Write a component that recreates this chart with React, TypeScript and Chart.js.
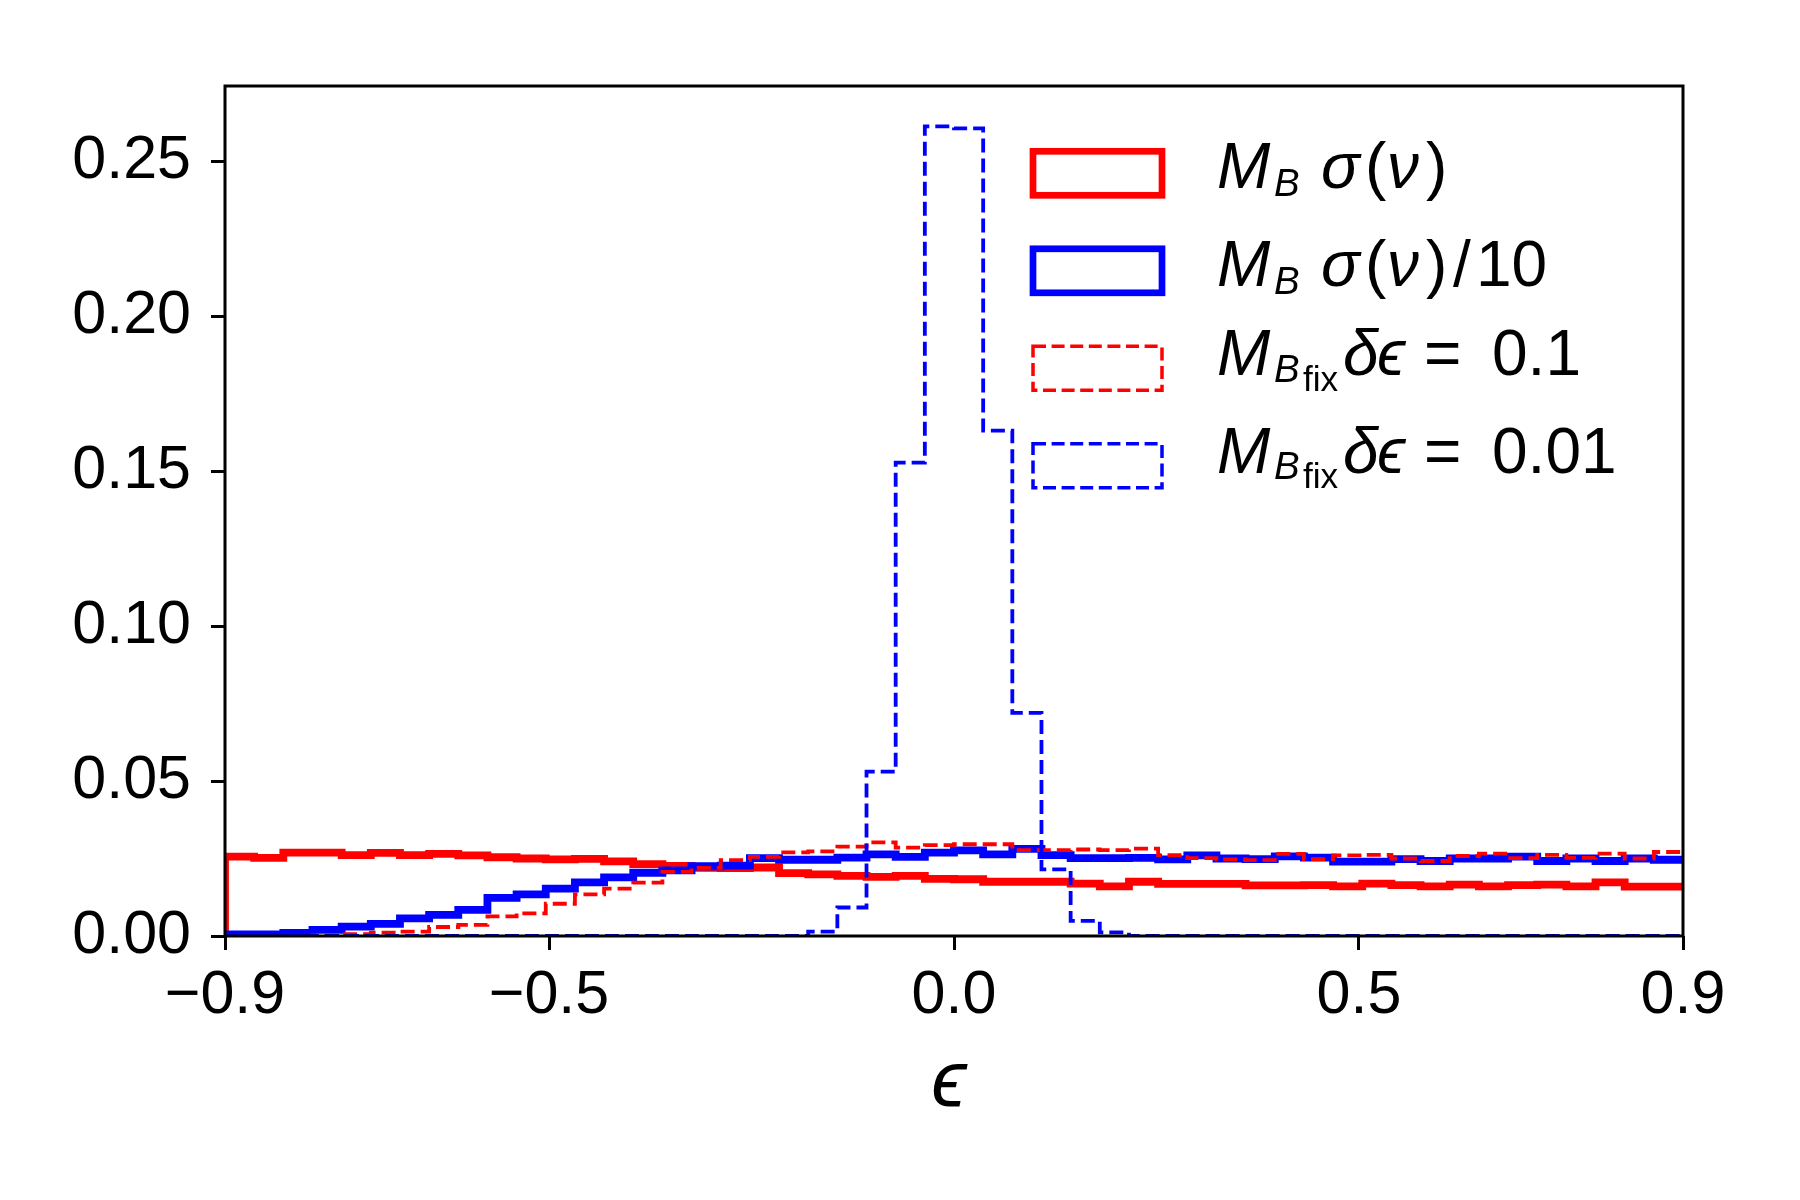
import React, { useEffect, useRef } from "react";
import { Chart, registerables } from "chart.js";

Chart.register(...registerables);

// ---- histogram definition (50 equal bins between -0.9 and 0.9) ----
const BIN_MIN = -0.9;
const BIN_MAX = 0.9;
const BIN_COUNT = 50;

// M_B sigma(nu)
const RED_SOLID = [
  0.0256, 0.0252, 0.0269, 0.0269, 0.0261, 0.0268, 0.0261, 0.0265, 0.026, 0.0254,
  0.025, 0.0247, 0.0249, 0.0241, 0.0232, 0.0226, 0.022, 0.0219, 0.0221, 0.0203,
  0.0199, 0.0194, 0.0191, 0.0194, 0.0184, 0.0183, 0.0175, 0.0175, 0.0175, 0.0169,
  0.016, 0.0175, 0.0168, 0.0168, 0.0168, 0.0163, 0.0163, 0.0164, 0.016, 0.0169,
  0.0164, 0.016, 0.0166, 0.016, 0.0164, 0.0166, 0.016, 0.0173, 0.0159, 0.0159,
];

// M_B sigma(nu)/10
const BLUE_SOLID = [
  0.0005, 0.0005, 0.001, 0.002, 0.003, 0.0039, 0.0057, 0.0068, 0.0084, 0.0123,
  0.0134, 0.0153, 0.0173, 0.0189, 0.0204, 0.0212, 0.0225, 0.0227, 0.0251, 0.0246,
  0.0246, 0.0253, 0.0263, 0.0255, 0.0269, 0.0276, 0.0263, 0.0281, 0.0261, 0.0251,
  0.0251, 0.0252, 0.0247, 0.026, 0.025, 0.0248, 0.0257, 0.0253, 0.024, 0.024,
  0.0248, 0.0242, 0.025, 0.025, 0.0256, 0.0242, 0.025, 0.0242, 0.025, 0.0246,
];

// M_B_fix, delta eps = 0.1
const RED_DASHED = [
  0, 0, 0, 0.0002, 0.0006, 0.0011, 0.0014, 0.0029, 0.0036, 0.0063,
  0.0073, 0.0104, 0.0134, 0.0153, 0.0172, 0.0207, 0.022, 0.0245, 0.0255, 0.027,
  0.0273, 0.0288, 0.0302, 0.0285, 0.0293, 0.0296, 0.0296, 0.0277, 0.0277, 0.0279,
  0.0277, 0.0282, 0.0261, 0.0251, 0.0247, 0.0245, 0.0265, 0.0248, 0.026, 0.0262,
  0.025, 0.0242, 0.0258, 0.0266, 0.0251, 0.0262, 0.0252, 0.0266, 0.025, 0.0271,
];

// M_B_fix, delta eps = 0.01
const BLUE_DASHED = [
  0, 0, 0, 0, 0, 0, 0, 0, 0, 0,
  0, 0, 0, 0, 0, 0, 0, 0, 0, 0,
  0.0014, 0.0092, 0.053, 0.1527, 0.2612, 0.2605, 0.163, 0.072, 0.0215, 0.0049,
  0.0012, 0, 0, 0, 0, 0, 0, 0, 0, 0,
  0, 0, 0, 0, 0, 0, 0, 0, 0, 0,
];

const X_TICKS = [-0.9, -0.5, 0.0, 0.5, 0.9];
const X_TICK_LABELS = ["\u22120.9", "\u22120.5", "0.0", "0.5", "0.9"];
const Y_TICKS = [0, 0.05, 0.1, 0.15, 0.2, 0.25];
const Y_TICK_LABELS = ["0.00", "0.05", "0.10", "0.15", "0.20", "0.25"];
const Y_MAX = 0.2742;
const X_TITLE = "\u03f5";

// legend label pieces: text, italic, size factor, vertical shift (em), horizontal offset (px from label start)
type Run = { t: string; it?: boolean; s?: number; dy?: number; x: number };

const LABEL_SIGMA: Run[] = [
  { t: "M", it: true, x: 0 },
  { t: "B", it: true, s: 0.6, dy: 0.125, x: 57 },
  { t: "\u03c3", it: true, x: 104 },
  { t: "(", x: 148 },
  { t: "\u03bd", it: true, x: 170 },
  { t: ")", x: 209 },
];
const LABEL_SIGMA10: Run[] = [...LABEL_SIGMA, { t: "/", x: 236 }, { t: "10", x: 259 }];
const labelFix = (val: string): Run[] => [
  { t: "M", it: true, x: 0 },
  { t: "B", it: true, s: 0.6, dy: 0.1, x: 57 },
  { t: "fix", s: 0.55, dy: 0.24, x: 86 },
  { t: "\u03b4", it: true, x: 126 },
  { t: "\u03f5", it: true, x: 160 },
  { t: "=", x: 207 },
  { t: val, x: 275 },
];

const LEGEND_COLORS = ["#ff0000", "#0000ff", "#ff0000", "#0000ff"];
const LEGEND_DASHED = [false, false, true, true];
const LEGEND_LABELS: Run[][] = [LABEL_SIGMA, LABEL_SIGMA10, labelFix("0.1"), labelFix("0.01")];

const FONT = "'Liberation Sans', 'DejaVu Sans', sans-serif";

function binEdges(): number[] {
  const w = (BIN_MAX - BIN_MIN) / BIN_COUNT;
  const e: number[] = [];
  for (let i = 0; i <= BIN_COUNT; i++) e.push(BIN_MIN + i * w);
  return e;
}

function stepPoints(vals: number[]) {
  const edges = binEdges();
  const pts: { x: number; y: number }[] = [{ x: edges[0], y: 0 }];
  vals.forEach((v, i) => {
    pts.push({ x: edges[i], y: v });
    pts.push({ x: edges[i + 1], y: v });
  });
  pts.push({ x: edges[edges.length - 1], y: 0 });
  return pts;
}

const framePlugin = {
  id: "frame",
  afterDatasetsDraw(chart: any) {
    const { ctx, chartArea: a } = chart;
    ctx.save();
    ctx.strokeStyle = "#000";
    ctx.lineWidth = 3;
    ctx.strokeRect(a.left, a.top, a.right - a.left, a.bottom - a.top);
    ctx.restore();
  },
};

const legendPlugin = {
  id: "mathLegend",
  afterDraw(chart: any) {
    const { ctx } = chart;
    const boxLeft = 1033;
    const boxRight = 1162;
    const halfH = 22;
    const firstCenter = 173.3;
    const step = 97.5;
    const textX = 1217;
    const size = 64;
    ctx.save();
    LEGEND_LABELS.forEach((runs, i) => {
      const cy = firstCenter + i * step;
      const dashed = LEGEND_DASHED[i];
      ctx.strokeStyle = LEGEND_COLORS[i];
      ctx.lineWidth = dashed ? 3.5 : 6.7;
      ctx.setLineDash(dashed ? [13, 5.6] : []);
      ctx.lineJoin = "miter";
      ctx.strokeRect(boxLeft, cy - halfH, boxRight - boxLeft, halfH * 2);
      ctx.setLineDash([]);
      const baseline = cy + (dashed ? 7 : 15);
      ctx.fillStyle = "#000";
      ctx.textBaseline = "alphabetic";
      ctx.textAlign = "left";
      runs.forEach((r) => {
        const fs = size * (r.s ?? 1);
        ctx.font = `${r.it ? "italic " : ""}${fs}px ${FONT}`;
        ctx.fillText(r.t, textX + r.x, baseline + (r.dy ?? 0) * size);
      });
    });
    // x-axis title
    ctx.font = `italic 80px ${FONT}`;
    ctx.textAlign = "center";
    ctx.textBaseline = "alphabetic";
    ctx.fillStyle = "#000";
    const a = chart.chartArea;
    ctx.fillText(X_TITLE, (a.left + a.right) / 2 - 5, 1106);
    ctx.restore();
  },
};

export default function App() {
  const ref = useRef<HTMLCanvasElement | null>(null);

  useEffect(() => {
    if (!ref.current) return;
    const mk = (vals: number[], color: string, dashed: boolean) => ({
      data: stepPoints(vals),
      borderColor: color,
      backgroundColor: color,
      borderWidth: dashed ? 3.8 : 7.8,
      borderDash: dashed ? [14, 6] : [],
      borderCapStyle: "butt",
      borderJoinStyle: "miter",
      pointRadius: 0,
      fill: false,
      tension: 0,
      clip: 0,
    });
    const chart = new Chart(ref.current, {
      type: "line",
      data: {
        datasets: [
          mk(BLUE_DASHED, "#0000ff", true),
          mk(RED_DASHED, "#ff0000", true),
          mk(BLUE_SOLID, "#0000ff", false),
          mk(RED_SOLID, "#ff0000", false),
        ] as any,
      },
      options: {
        animation: false,
        responsive: false,
        devicePixelRatio: 1,
        layout: { padding: { left: 0, top: 86, right: 117, bottom: 0 } },
        plugins: { legend: { display: false }, tooltip: { enabled: false } },
        scales: {
          x: {
            type: "linear",
            min: BIN_MIN,
            max: BIN_MAX,
            afterBuildTicks: (s: any) => {
              s.ticks = X_TICKS.map((v) => ({ value: v }));
            },
            afterFit: (s: any) => {
              s.height = 264;
              s.paddingLeft = 0;
              s.paddingRight = 0;
            },
            ticks: {
              autoSkip: false,
              maxRotation: 0,
              minRotation: 0,
              padding: 10,
              color: "#000",
              font: { family: FONT, size: 61 },
              callback: (v: any) => {
                const i = X_TICKS.findIndex((t) => Math.abs(t - Number(v)) < 1e-9);
                return i >= 0 ? X_TICK_LABELS[i] : "";
              },
            },
            grid: {
              drawOnChartArea: false,
              drawTicks: true,
              tickLength: 14,
              tickWidth: 3,
              tickColor: "#000",
              color: "#000",
            },
            border: { display: false },
          },
          y: {
            type: "linear",
            min: 0,
            max: Y_MAX,
            afterBuildTicks: (s: any) => {
              s.ticks = Y_TICKS.map((v) => ({ value: v }));
            },
            afterFit: (s: any) => {
              s.width = 225;
              s.paddingTop = 0;
              s.paddingBottom = 0;
            },
            ticks: {
              padding: 20,
              color: "#000",
              font: { family: FONT, size: 61 },
              callback: (v: any) => {
                const i = Y_TICKS.findIndex((t) => Math.abs(t - Number(v)) < 1e-9);
                return i >= 0 ? Y_TICK_LABELS[i] : "";
              },
            },
            grid: {
              drawOnChartArea: false,
              drawTicks: true,
              tickLength: 14,
              tickWidth: 3,
              tickColor: "#000",
              color: "#000",
            },
            border: { display: false },
          },
        },
      } as any,
      plugins: [framePlugin, legendPlugin],
    });
    return () => chart.destroy();
  }, []);

  return (
    <div
      style={{
        position: "fixed",
        left: 0,
        top: 0,
        width: 1800,
        height: 1200,
        background: "#fff",
      }}
    >
      <canvas ref={ref} width={1800} height={1200} style={{ display: "block", width: 1800, height: 1200 }} />
    </div>
  );
}
